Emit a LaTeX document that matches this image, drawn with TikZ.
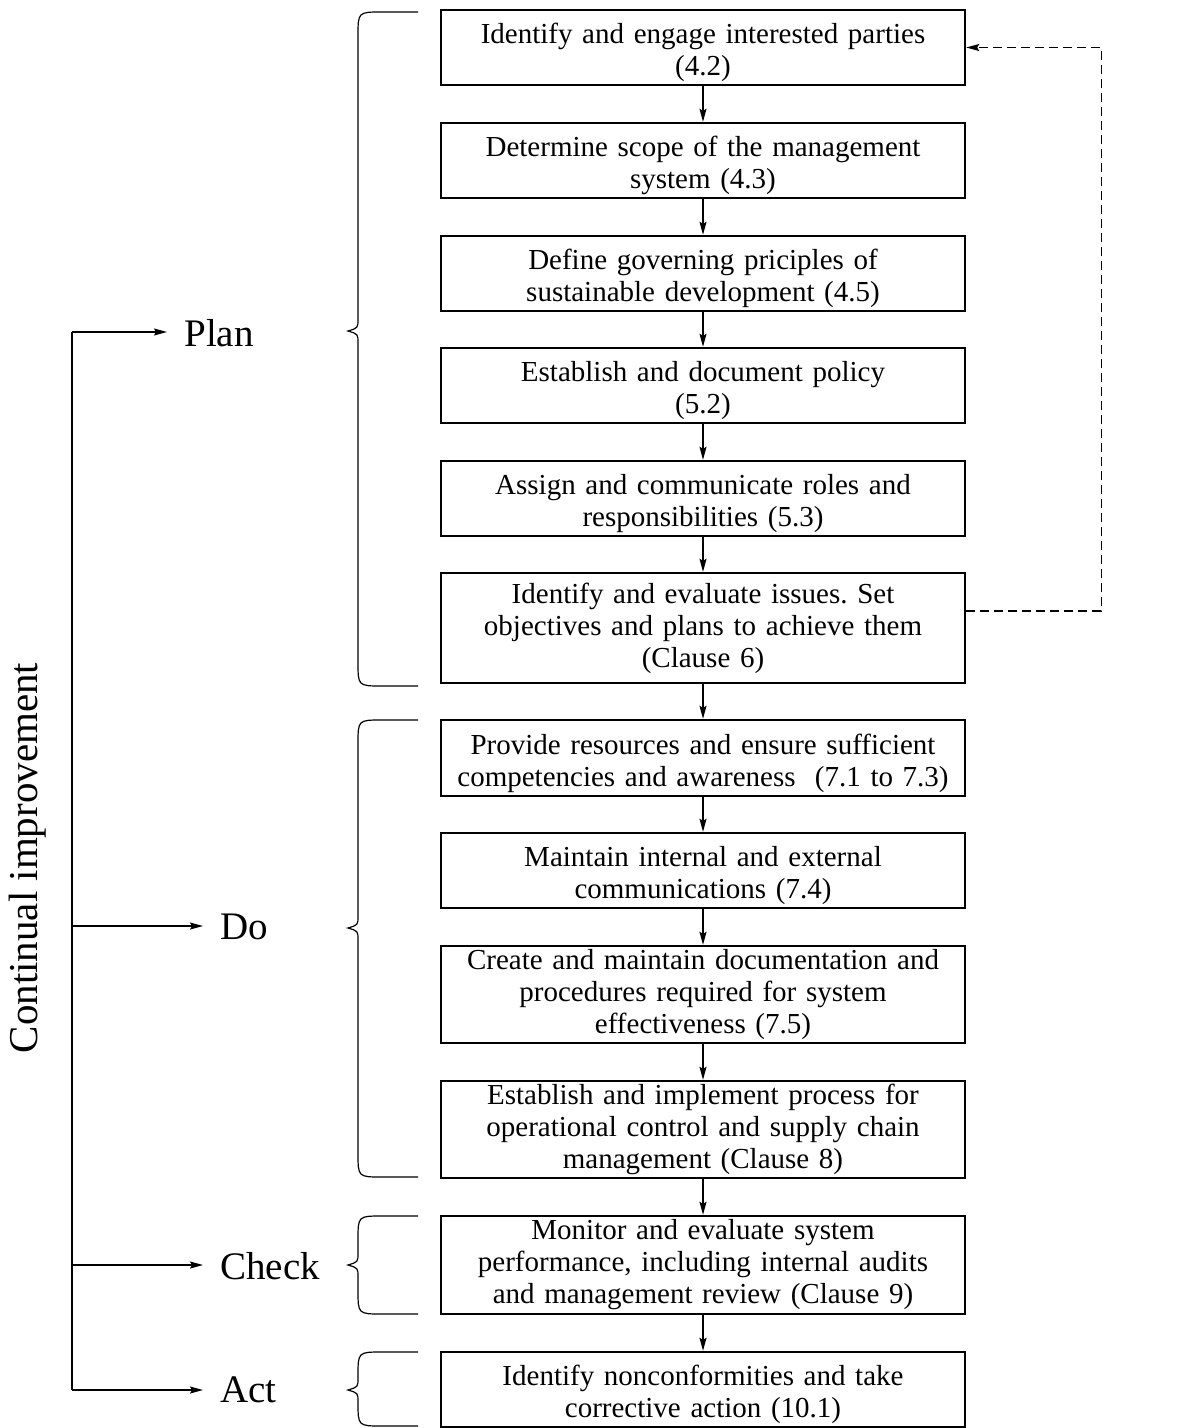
\documentclass[tikz,border=0pt]{standalone}
\usepackage{fontspec}
\setmainfont{Liberation Serif}
\usetikzlibrary{arrows.meta,calc}
\frenchspacing

\begin{document}
\begin{tikzpicture}[x=0.5pt,y=-0.5pt,
    stepbox/.style={draw, line width=1.2pt, minimum width=262pt, text width=258pt,
      inner xsep=2pt, inner ysep=0pt, align=center, font=\fontsize{14.5}{16}\selectfont},
    twoline/.style={stepbox, minimum height=37.5pt,
      execute at begin node={\rule{0pt}{15.5pt}}},
    flow/.style={line width=0.7pt, -{Stealth[length=6.5pt,width=3.5pt,inset=1pt]}},
    feedback/.style={flow, dash pattern=on 4.5pt off 2.5pt},
    bracepath/.style={line width=0.6pt},
    phase/.style={anchor=west, inner xsep=8.5pt, font=\fontsize{19.5}{22}\selectfont}]
  \useasboundingbox (0,0) rectangle (1180,1428);

  %% the twelve steps, one column
  \node[twoline] (parties) at (703,47.5)
    {Identify and engage interested parties\\(4.2)};
  \node[twoline] (scope) at (703,160.5)
    {Determine scope of the management\\system (4.3)};
  \node[twoline] (principles) at (703,273.5)
    {Define governing priciples of\\sustainable development (4.5)};
  \node[twoline] (policy) at (703,385.5)
    {Establish and document policy\\(5.2)};
  \node[twoline] (roles) at (703,498.5)
    {Assign and communicate roles and\\responsibilities (5.3)};
  \node[stepbox, minimum height=55pt] (issues) at (703,628)
    {Identify and evaluate issues. Set\\objectives and plans to achieve them\\(Clause 6)};
  \node[twoline, minimum height=38pt] (resources) at (703,758)
    {Provide resources and ensure sufficient\\competencies and awareness\ \ (7.1 to 7.3)};
  \node[twoline] (comms) at (703,870.5)
    {Maintain internal and external\\communications (7.4)};
  \node[stepbox, minimum height=48.5pt] (docs) at (703,994.5)
    {Create and maintain documentation and\\procedures required for system\\effectiveness (7.5)};
  \node[stepbox, minimum height=48.5pt] (operation) at (703,1129.5)
    {Establish and implement process for\\operational control and supply chain\\management (Clause 8)};
  \node[stepbox, minimum height=49pt] (monitor) at (703,1265)
    {Monitor and evaluate system\\performance, including internal audits\\and management review (Clause 9)};
  \node[twoline] (nonconf) at (703,1389.5)
    {Identify nonconformities and take\\corrective action (10.1)};

  \foreach \a/\b in {parties/scope, scope/principles, principles/policy, policy/roles,
      roles/issues, issues/resources, resources/comms, comms/docs, docs/operation,
      operation/monitor, monitor/nonconf}
    \draw[flow] (\a) -- (\b);

  %% dashed return from the planning step back to the top
  \coordinate (fb) at ($(issues.east)+(0,-17)$);
  \draw[feedback] (fb) -- ++(135,0) |- (parties.east);

  %% braces grouping the steps
  \foreach \top/\bot/\tip in {12/686/331, 720/1177/928, 1216/1314/1265, 1352/1426/1390}
    \draw[bracepath] (418,\top) -- (382,\top) .. controls (358,\top) .. (358,\top+24)
      -- (358,\tip-12) .. controls (358,\tip-3) .. (348,\tip)
      .. controls (358,\tip+3) .. (358,\tip+12) -- (358,\bot-24)
      .. controls (358,\bot) .. (382,\bot) -- (418,\bot);

  %% PDCA labels and the improvement loop
  \node[phase] (plan) at (167,333) {Plan};
  \node[phase] (do) at (203,927) {Do};
  \node[phase] (check) at (203,1266) {Check};
  \node[phase] (act) at (203,1390) {Act};
  \node[rotate=90, font=\fontsize{20.5}{24}\selectfont] (improve) at (28,858)
    {Continual improvement};

  \coordinate (tplan) at (72,332);
  \coordinate (tdo) at (72,926);
  \coordinate (tcheck) at (72,1265);
  \coordinate (tact) at (72,1390);
  \draw[line width=0.7pt] (tplan) -- (tact);
  \foreach \t/\p in {tplan/plan, tdo/do, tcheck/check, tact/act}
    \draw[flow] (\t) -- (\t -| \p.west);
\end{tikzpicture}
\end{document}
